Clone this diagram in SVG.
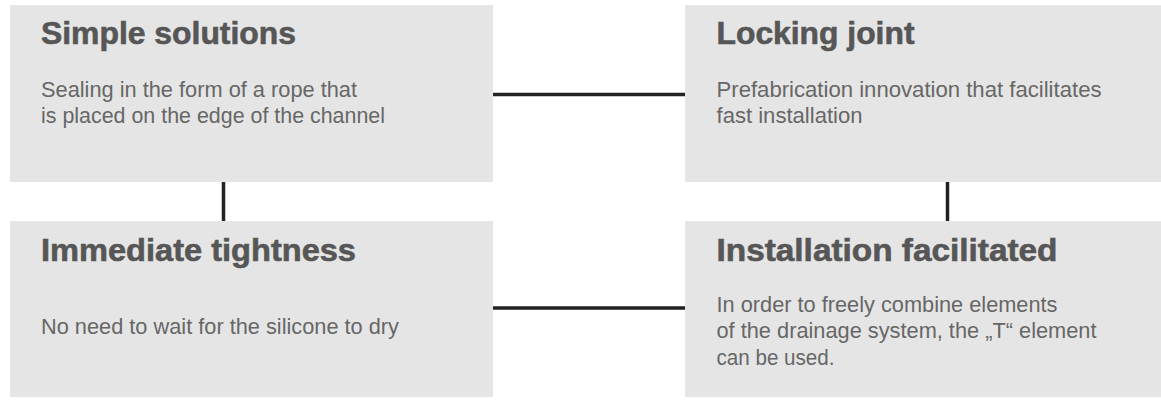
<svg xmlns="http://www.w3.org/2000/svg" width="1161" height="407" viewBox="0 0 1161 407">
<style>
.box{fill:#e5e5e5}
.title{font-family:"Liberation Sans",Arial,sans-serif;font-weight:bold;font-size:31px;fill:#565656;stroke:#565656;stroke-width:0.6}
.body{font-family:"Liberation Sans",Arial,sans-serif;font-size:21.3px;fill:#676767}
.conn{stroke:#222;stroke-width:3.5;fill:none}
</style>
<rect width="1161" height="407" fill="#fff"/>
<g id="connectors">
<line class="conn" x1="493" y1="94.5" x2="685" y2="94.5"/>
<line class="conn" x1="493" y1="308" x2="685" y2="308"/>
<line class="conn" x1="223.5" y1="182" x2="223.5" y2="221"/>
<line class="conn" x1="947.5" y1="182" x2="947.5" y2="221"/>
</g>
<g id="simple-solutions">
<rect class="box" x="10" y="5" width="483" height="177"/>
<text class="title" x="41" y="44" textLength="255" lengthAdjust="spacingAndGlyphs">Simple solutions</text>
<text class="body" x="41" y="96.7" textLength="316" lengthAdjust="spacingAndGlyphs">Sealing in the form of a rope that</text>
<text class="body" x="41" y="122.7" textLength="344" lengthAdjust="spacingAndGlyphs">is placed on the edge of the channel</text>
</g>
<g id="locking-joint">
<rect class="box" x="685" y="5" width="476" height="177"/>
<text class="title" x="716.5" y="44" textLength="198" lengthAdjust="spacingAndGlyphs">Locking joint</text>
<text class="body" x="716.5" y="96.7" textLength="385" lengthAdjust="spacingAndGlyphs">Prefabrication innovation that facilitates</text>
<text class="body" x="716.5" y="122.7" textLength="146" lengthAdjust="spacingAndGlyphs">fast installation</text>
</g>
<g id="immediate-tightness">
<rect class="box" x="10" y="221" width="483" height="176"/>
<text class="title" x="41" y="261" textLength="315" lengthAdjust="spacingAndGlyphs">Immediate tightness</text>
<text class="body" x="41" y="334.3" textLength="358" lengthAdjust="spacingAndGlyphs">No need to wait for the silicone to dry</text>
</g>
<g id="installation-facilitated">
<rect class="box" x="685" y="221" width="476" height="176"/>
<text class="title" x="716.5" y="261" textLength="341" lengthAdjust="spacingAndGlyphs">Installation facilitated</text>
<text class="body" x="716.5" y="311.7" textLength="341" lengthAdjust="spacingAndGlyphs">In order to freely combine elements</text>
<text class="body" x="716.5" y="338.3" textLength="380" lengthAdjust="spacingAndGlyphs">of the drainage system, the „T“ element</text>
<text class="body" x="716.5" y="365.2" textLength="118" lengthAdjust="spacingAndGlyphs">can be used.</text>
</g>
</svg>
